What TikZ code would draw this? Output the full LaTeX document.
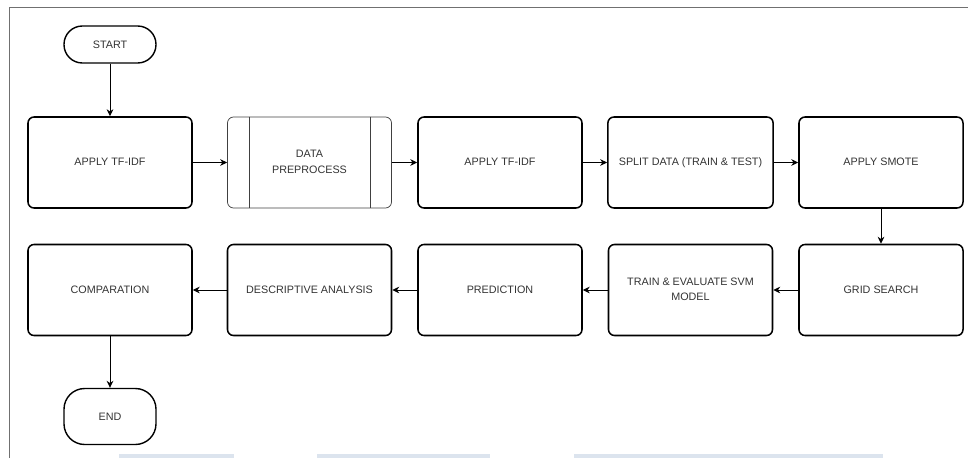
\documentclass[tikz,border=0pt]{standalone}
\usepackage{fontspec}
\setmainfont{Liberation Sans}
\usetikzlibrary{arrows.meta,positioning}
\definecolor{txtgray}{HTML}{333333}
\definecolor{framegray}{HTML}{707070}
\definecolor{barblue}{HTML}{DCE4EE}
\begin{document}
\begin{tikzpicture} [
      process/.style={draw, rectangle, rounded corners=0.18cm, line width=1.3pt, minimum width=4.92cm, minimum height=2.73cm, text=txtgray, font=\fontsize{9.2}{13.3}\selectfont},
      subproc/.style={process, draw=black!75, line width=0.6pt},
      terminal/.style={draw, rectangle, line width=1.2pt, minimum width=2.76cm, text=txtgray, font=\fontsize{9.2}{13.3}\selectfont},
      flow/.style={-{Stealth[length=0.21cm, width=0.2cm]}, line width=0.8pt}
   ]
    \useasboundingbox (0, 0) rectangle (29.04, -13.74);
    % page frame and bottom bars
    \draw[framegray, line width=1.6pt] (0.285, -13.74) -- (0.285, -0.225) -- (29.04, -0.225);
    \fill[barblue] (3.57, -13.62) rectangle (7.02, -13.74);
    \fill[barblue] (9.51, -13.62) rectangle (14.7, -13.74);
    \fill[barblue] (17.22, -13.62) rectangle (26.49, -13.74);

    \node[terminal, minimum height=1.11cm, rounded corners=0.55cm] (ndStart) at (3.3, -1.335) {START};
    \node[process, below of=ndStart, node distance=3.54cm] (ndTfidfA) {
      \begin{tabular}{c}
        APPLY TF-IDF
      \end{tabular}
    };
    \node[subproc, right of=ndTfidfA, node distance=5.985cm] (ndPreprocess) {
      \begin{tabular}{c}
        DATA \\
        PREPROCESS
      \end{tabular}
    };
    \draw[draw=black!75, line width=0.6pt] ([xshift=0.66cm]ndPreprocess.north west) -- ([xshift=0.66cm]ndPreprocess.south west);
    \draw[draw=black!75, line width=0.6pt] ([xshift=-0.66cm]ndPreprocess.north east) -- ([xshift=-0.66cm]ndPreprocess.south east);
    \node[process, right of=ndPreprocess, node distance=5.715cm] (ndTfidfB) {
      \begin{tabular}{c}
        APPLY TF-IDF
      \end{tabular}
    };
    \node[process, right of=ndTfidfB, node distance=5.715cm] (ndSplit) {
      \begin{tabular}{c}
        SPLIT DATA (TRAIN \& TEST)
      \end{tabular}
    };
    \node[process, right of=ndSplit, node distance=5.715cm] (ndSmote) {
      \begin{tabular}{c}
        APPLY SMOTE
      \end{tabular}
    };

    \node[process, below of=ndSmote, node distance=3.825cm] (ndGrid) {
      \begin{tabular}{c}
        GRID SEARCH
      \end{tabular}
    };
    \node[process, left of=ndGrid, node distance=5.715cm] (ndTrain) {
      \begin{tabular}{c}
        TRAIN \& EVALUATE SVM \\
        MODEL
      \end{tabular}
    };
    \node[process, left of=ndTrain, node distance=5.715cm] (ndPredict) {
      \begin{tabular}{c}
        PREDICTION
      \end{tabular}
    };
    \node[process, left of=ndPredict, node distance=5.715cm] (ndDescriptive) {
      \begin{tabular}{c}
        DESCRIPTIVE ANALYSIS
      \end{tabular}
    };
    \node[process, left of=ndDescriptive, node distance=5.985cm] (ndCompare) {
      \begin{tabular}{c}
        COMPARATION
      \end{tabular}
    };
    \node[terminal, below of=ndCompare, node distance=3.795cm, minimum height=1.68cm, rounded corners=0.62cm] (ndEnd) {END};

    \draw[flow] (ndStart) -- (ndTfidfA);
    \draw[flow] (ndTfidfA) -- (ndPreprocess);
    \draw[flow] (ndPreprocess) -- (ndTfidfB);
    \draw[flow] (ndTfidfB) -- (ndSplit);
    \draw[flow] (ndSplit) -- (ndSmote);
    \draw[flow] (ndSmote) -- (ndGrid);
    \draw[flow] (ndGrid) -- (ndTrain);
    \draw[flow] (ndTrain) -- (ndPredict);
    \draw[flow] (ndPredict) -- (ndDescriptive);
    \draw[flow] (ndDescriptive) -- (ndCompare);
    \draw[flow] (ndCompare) -- (ndEnd);

  \end{tikzpicture}
\end{document}
